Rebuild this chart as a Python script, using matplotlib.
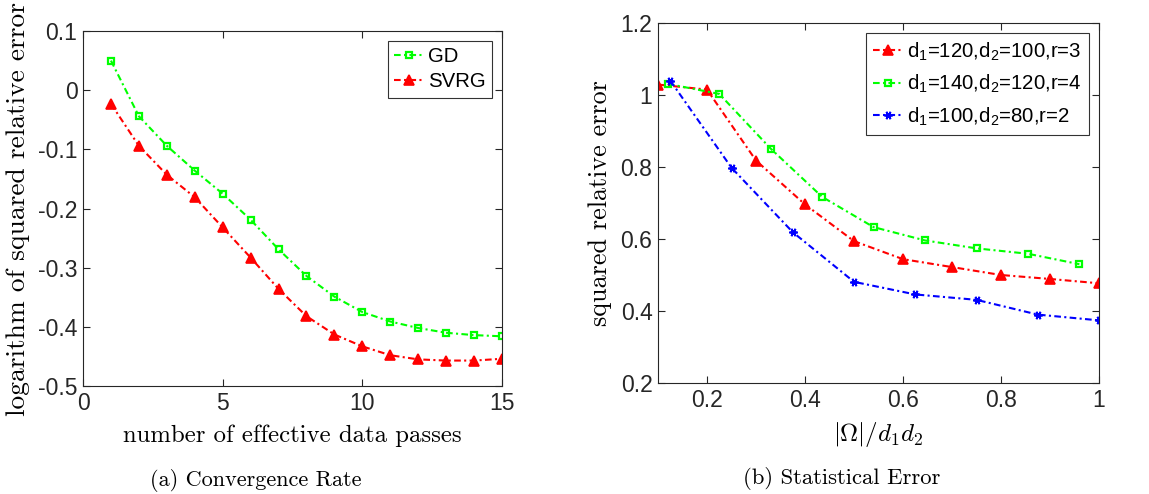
import numpy as np
import matplotlib as mpl
import matplotlib.pyplot as plt

mpl.rcParams['font.family'] = 'Liberation Sans'
mpl.rcParams['mathtext.fontset'] = 'cm'

# (a) convergence rate
passes = np.arange(1, 16)
gd_log_err = [0.05, -0.044, -0.094, -0.136, -0.175, -0.219, -0.269, -0.314, -0.349,
              -0.375, -0.391, -0.402, -0.410, -0.414, -0.416]
svrg_log_err = [-0.023, -0.094, -0.143, -0.181, -0.232, -0.283, -0.336, -0.382, -0.413,
                -0.433, -0.448, -0.455, -0.457, -0.457, -0.454]

# (b) statistical error
ratio_a = [0.1, 0.2, 0.3, 0.4, 0.5, 0.6, 0.7, 0.8, 0.9, 1.0]
err_a = [1.029, 1.015, 0.818, 0.696, 0.594, 0.544, 0.522, 0.500, 0.489, 0.477]
ratio_b = [0.12, 0.225, 0.33, 0.435, 0.54, 0.645, 0.75, 0.855, 0.96]
err_b = [1.031, 1.003, 0.851, 0.717, 0.633, 0.596, 0.574, 0.559, 0.530]
ratio_c = [0.125, 0.25, 0.375, 0.5, 0.625, 0.75, 0.875, 1.0]
err_c = [1.04, 0.798, 0.619, 0.481, 0.446, 0.431, 0.390, 0.374]

fig = plt.figure(figsize=(11.49, 4.94), dpi=100)
ax1 = fig.add_axes([83/1149, 1-386/494, 419/1149, 355/494])
ax2 = fig.add_axes([658/1149, 1-383/494, 441/1149, 360/494])

serif = 'cmr10'
dashdot = (0, (3.2, 1.6, 1.0, 1.6))
tri = dict(marker='^', markersize=6.5, markeredgewidth=1.2)
sq = dict(marker='s', markersize=4.5, markerfacecolor='none', markeredgewidth=1.6)
star = dict(marker=(6, 2, 90), markersize=6, markeredgewidth=1.3)

def style(ax):
    ax.tick_params(direction='in', top=True, right=True, length=5, width=0.8,
                   labelsize=16.5, pad=4, colors='#262626')
    for s in ax.spines.values():
        s.set_color('#262626')
        s.set_linewidth(0.8)

ax1.plot(passes, gd_log_err, linestyle=dashdot, color='#00ff00', linewidth=1.5,
         label='GD', **sq)
ax1.plot(passes, svrg_log_err, linestyle=dashdot, color='red', linewidth=1.5,
         label='SVRG', **tri)
ax1.set_xlim(0, 15)
ax1.set_ylim(-0.5, 0.1)
ax1.set_xticks([0, 5, 10, 15])
ax1.set_yticks([-0.5, -0.4, -0.3, -0.2, -0.1, 0, 0.1])
ax1.set_yticklabels(['-0.5', '-0.4', '-0.3', '-0.2', '-0.1', '0', '0.1'])
ax1.set_xlabel('number of effective data passes', family=serif, fontsize=17.8, labelpad=7)
ax1.set_ylabel('logarithm of squared relative error', family=serif, fontsize=19.8, labelpad=6)
style(ax1)
leg1 = ax1.legend(loc='upper right', fontsize=14.7, handlelength=1.45, handletextpad=0.2,
                  borderaxespad=0.5, fancybox=False, edgecolor='black',
                  borderpad=0.3, labelspacing=0.3)
leg1.get_frame().set_linewidth(0.8)

ax2.plot(ratio_a, err_a, linestyle=dashdot, color='red', linewidth=1.5,
         label=r'd$\mathregular{_1}$=120,d$\mathregular{_2}$=100,r=3', **tri)
ax2.plot(ratio_b, err_b, linestyle=dashdot, color='#00ff00', linewidth=1.5,
         label=r'd$\mathregular{_1}$=140,d$\mathregular{_2}$=120,r=4', **sq)
ax2.plot(ratio_c, err_c, linestyle=dashdot, color='blue', linewidth=1.5,
         label=r'd$\mathregular{_1}$=100,d$\mathregular{_2}$=80,r=2', **star)
ax2.set_xlim(0.1, 1)
ax2.set_ylim(0.2, 1.2)
ax2.set_xticks([0.2, 0.4, 0.6, 0.8, 1])
ax2.set_xticklabels(['0.2', '0.4', '0.6', '0.8', '1'])
ax2.set_yticks([0.2, 0.4, 0.6, 0.8, 1, 1.2])
ax2.set_yticklabels(['0.2', '0.4', '0.6', '0.8', '1', '1.2'])
ax2.set_xlabel(r'$|\Omega|/d_1d_2$', fontsize=18, labelpad=6)
ax2.set_ylabel('squared relative error', family=serif, fontsize=18.8, labelpad=6)
style(ax2)
leg2 = ax2.legend(loc='upper right', fontsize=14.7, handlelength=1.45, handletextpad=0.2,
                  borderaxespad=0.5, fancybox=False, edgecolor='black',
                  borderpad=0.35, labelspacing=0.5)
leg2.get_frame().set_linewidth(0.8)

fig.text(256/1149, 1-480/494, '(a) Convergence Rate', family=serif, fontsize=16,
         ha='center', va='center')
fig.text(842/1149, 1-478/494, '(b) Statistical Error', family=serif, fontsize=16.3,
         ha='center', va='center')

fig.savefig('out.png', dpi=100)
